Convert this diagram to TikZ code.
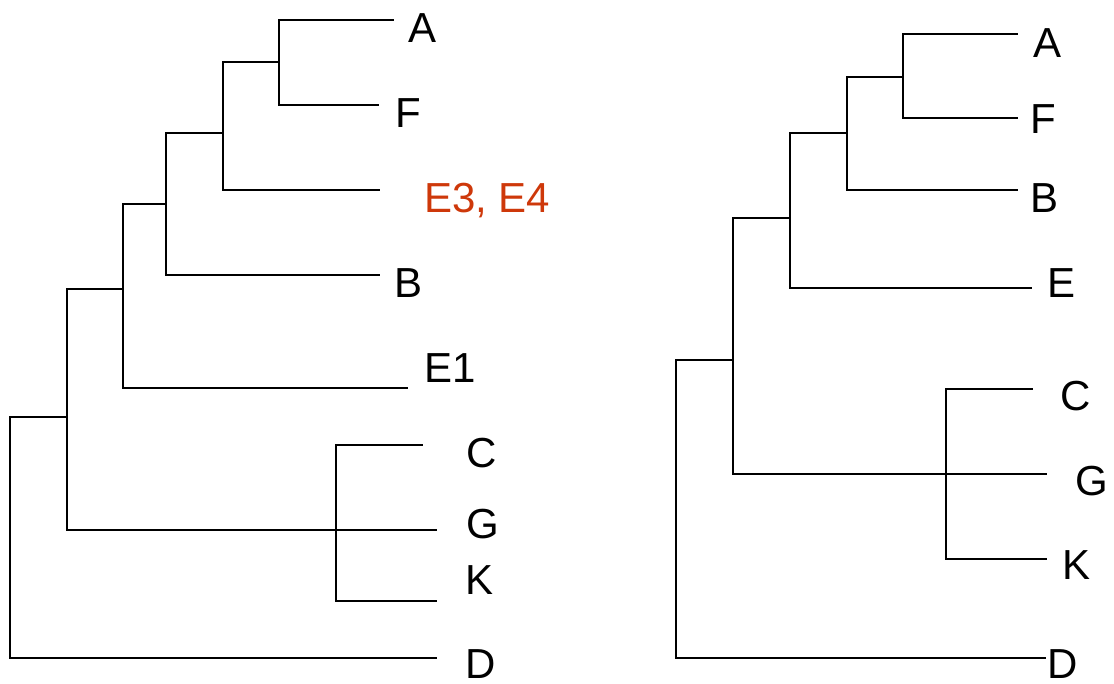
\documentclass[tikz,border=0pt]{standalone}
\usepackage{fontspec}
\setmainfont{Liberation Sans}
\definecolor{hilite}{RGB}{206,56,10}
\begin{document}
\begin{tikzpicture}[x=1pt,y=-1pt,
  branchL/.style={line width=1.7pt,black,line cap=rect},
  branchR/.style={line width=1.5pt,black,line cap=rect},
  lab/.style={inner sep=0pt,outer sep=0pt,anchor=base west,font=\fontsize{42}{50}\selectfont}]
\useasboundingbox (0,0) rectangle (1114,683);
% ---------- left tree ----------
\coordinate (lA) at (393,20);
\coordinate (lF) at (378,105);
\coordinate (lE3) at (379,190);
\coordinate (lB) at (379,275);
\coordinate (lE1) at (407,388);
\coordinate (lC) at (422,445);
\coordinate (lG) at (436,530);
\coordinate (lK) at (436,601);
\coordinate (lD) at (436,658);
\coordinate (nAF) at (279,62);
\coordinate (nAFE) at (223,133);
\coordinate (nB) at (166,204);
\coordinate (nE1) at (123,289);
\coordinate (nCGK) at (336,530);
\coordinate (nIng) at (67,417);
\coordinate (nRoot) at (10,540);
\draw[branchL] (lA) -| (nAF) |- (lF);
\draw[branchL] (nAF) -| (nAFE) |- (lE3);
\draw[branchL] (nAFE) -| (nB) |- (lB);
\draw[branchL] (nB) -| (nE1) |- (lE1);
\draw[branchL] (nE1) -| (nIng) |- (nCGK);
\draw[branchL] (lC) -| (nCGK) |- (lK);
\draw[branchL] (nCGK) -- (lG);
\draw[branchL] (nIng) -| (nRoot) |- (lD);
\node[lab] (tlA) at (408,42) {A};
\node[lab] (tlF) at (395,127) {F};
\node[lab,text=hilite] (tlE3) at (424,212) {E3, E4};
\node[lab] (tlB) at (394,297) {B};
\node[lab] (tlE1) at (424,382) {E1};
\node[lab] (tlC) at (466,467) {C};
\node[lab] (tlG) at (466,538) {G};
\node[lab] (tlK) at (465,594) {K};
\node[lab] (tlD) at (465,678) {D};
% ---------- right tree ----------
\coordinate (rA) at (1017,34);
\coordinate (rF) at (1017,118);
\coordinate (rB) at (1017,190);
\coordinate (rE) at (1031,288);
\coordinate (rC) at (1032,389);
\coordinate (rG) at (1046,474);
\coordinate (rK) at (1046,559);
\coordinate (rD) at (1045,658);
\coordinate (mAF) at (903,77);
\coordinate (mAFB) at (847,133);
\coordinate (mE) at (790,218);
\coordinate (mIng) at (733,360);
\coordinate (mCGK) at (946,474);
\coordinate (mRoot) at (676,500);
\coordinate (mStub) at (932,474);
\draw[branchR] (rA) -| (mAF) |- (rF);
\draw[branchR] (mAF) -| (mAFB) |- (rB);
\draw[branchR] (mAFB) -| (mE) |- (rE);
\draw[branchR] (mE) -| (mIng) |- (mCGK);
\draw[branchR] (rC) -| (mCGK) |- (rK);
\draw[branchR] (mCGK) -- (rG);
\draw[line width=2.6pt,line cap=butt] (mStub) -- (mCGK);
\draw[branchR] (mIng) -| (mRoot) |- (rD);
\node[lab] (trA) at (1033,57) {A};
\node[lab] (trF) at (1030,133) {F};
\node[lab] (trB) at (1030,212) {B};
\node[lab] (trE) at (1047,297) {E};
\node[lab] (trC) at (1060,410) {C};
\node[lab] (trG) at (1075,495) {G};
\node[lab] (trK) at (1062,579) {K};
\node[lab] (trD) at (1047,678) {D};
\end{tikzpicture}
\end{document}
